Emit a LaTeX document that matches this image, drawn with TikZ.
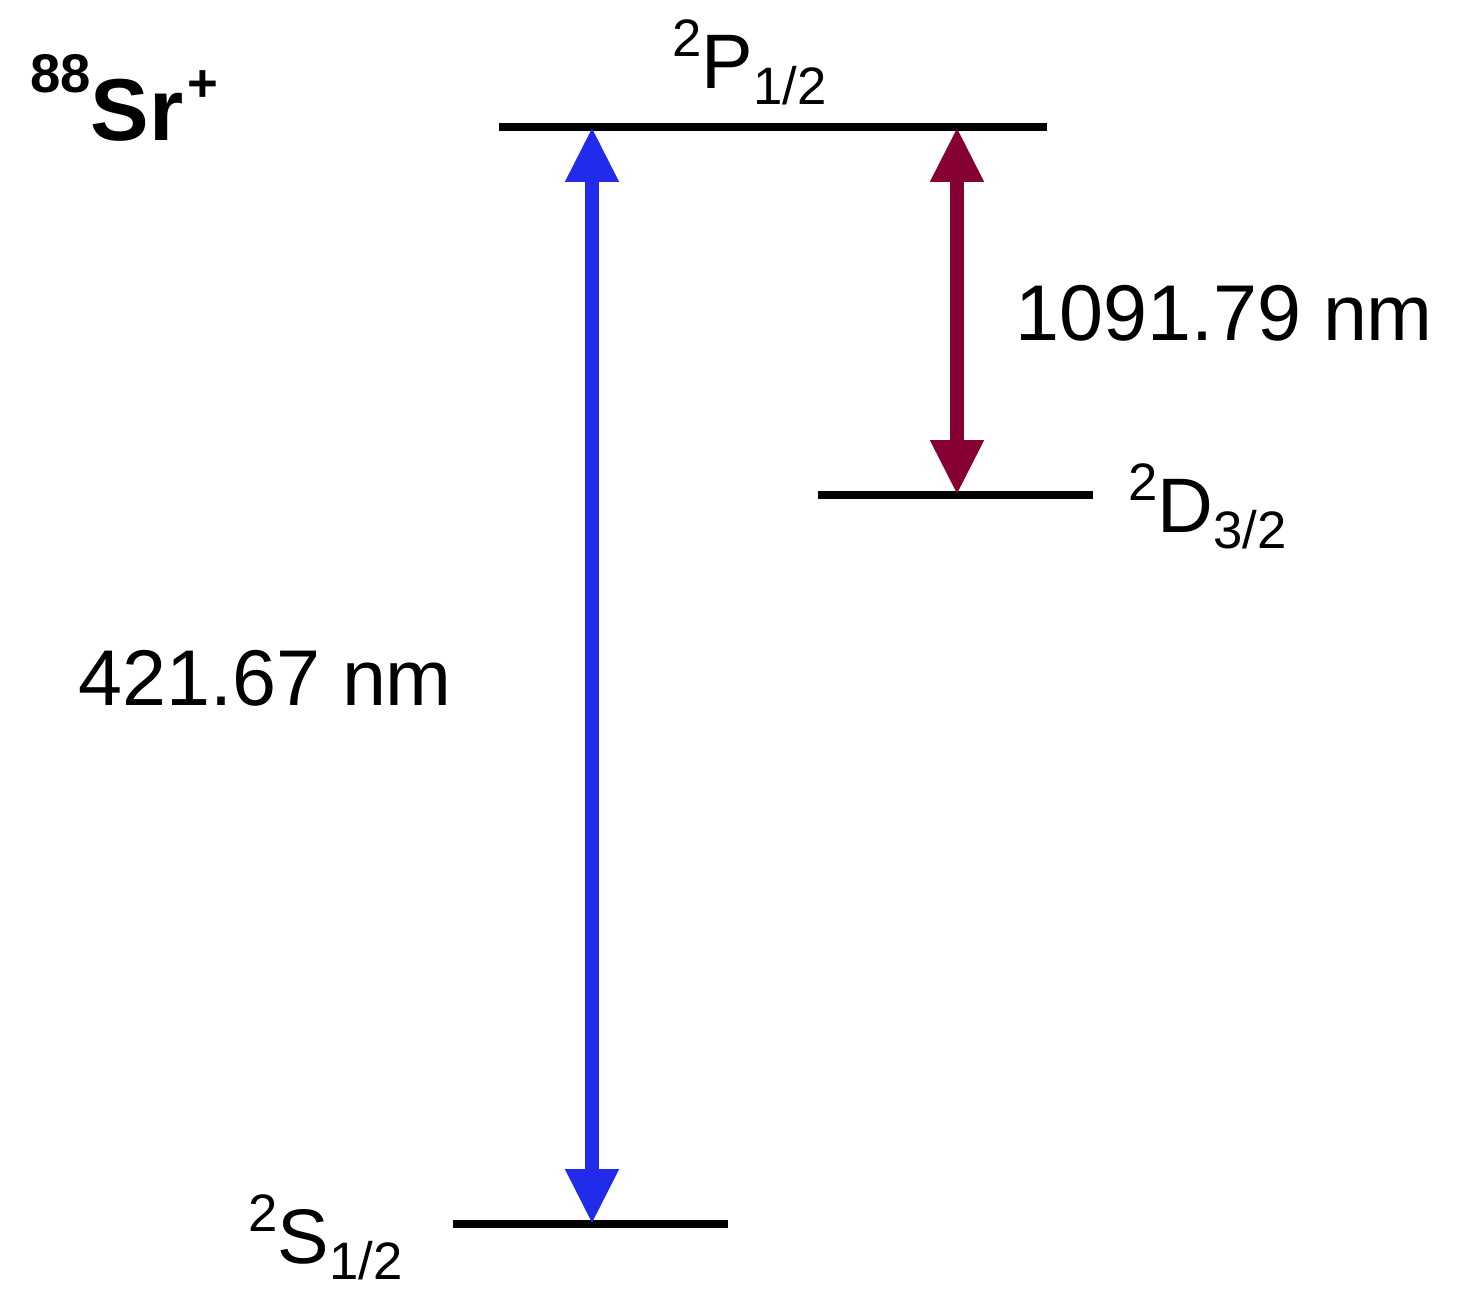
\documentclass[tikz,border=0pt]{standalone}
\usepackage{fontspec}
\setmainfont{Liberation Sans}
\usetikzlibrary{arrows.meta}
\definecolor{srblue}{RGB}{33,43,235}
\definecolor{srred}{RGB}{134,0,52}
\newcommand{\term}[3]{\raisebox{18pt}{\fontsize{30}{30}\selectfont #1}#2\raisebox{-9.6pt}{\fontsize{30}{30}\selectfont #3}}
\tikzset{
  level/.style={line width=4.5pt},
  trans/.style={line width=8.5pt,{Triangle[width=1.0cm,length=1.1cm]}-{Triangle[width=1.0cm,length=1.1cm]}},
  lbl/.style={inner sep=0pt,anchor=base west,font=\fontsize{44}{44}\selectfont},
  wave/.style={lbl,font=\fontsize{45}{45}\selectfont}
}
\begin{document}
\begin{tikzpicture}[x=0.02cm,y=-0.02cm]
\useasboundingbox (0,0) rectangle (1476,1299);
\coordinate (P1) at (499,127);
\coordinate (P2) at (1047,127);
\coordinate (D1) at (818,495);
\coordinate (D2) at (1093,495);
\coordinate (S1) at (453,1224);
\coordinate (S2) at (728,1224);
\coordinate (Pb) at (592,127);
\coordinate (Sb) at (592,1224);
\coordinate (Pr) at (957,127);
\coordinate (Dr) at (957,495);
\path[draw,level] (P1) -- (P2);
\path[draw,level] (D1) -- (D2);
\path[draw,level] (S1) -- (S2);
\path[draw,trans,srblue] (Pb) -- (Sb);
\path[draw,trans,srred] (Pr) -- (Dr);
\node[lbl,font=\fontsize{50}{50}\selectfont\bfseries] (Sr) at (30,140) {\raisebox{27pt}{\fontsize{31}{31}\selectfont 88}Sr\hspace{2pt}\raisebox{22pt}{\fontsize{30}{30}\selectfont +}};
\node[lbl] (P) at (672,88) {\term{2}{P}{1/2}};
\node[lbl] (D) at (1128,532) {\term{2}{D}{3/2}};
\node[lbl] (S) at (248,1263) {\term{2}{S}{1/2}};
\node[wave] (lb) at (78,705) {421.67 nm};
\node[wave] (lr) at (1015,340) {1091.79 nm};
\end{tikzpicture}
\end{document}
